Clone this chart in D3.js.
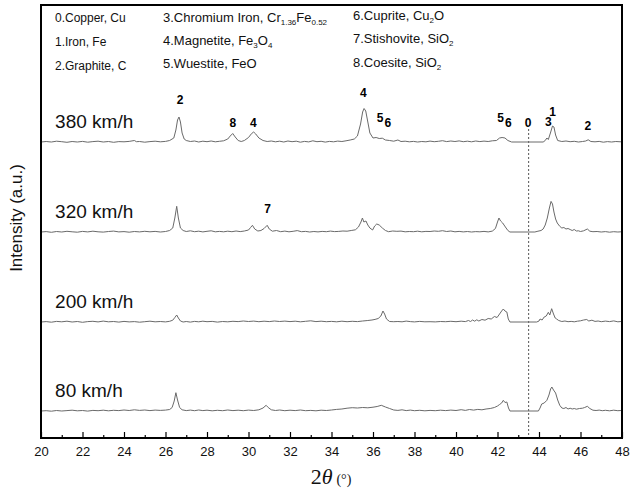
<!DOCTYPE html>
<html>
<head>
<meta charset="utf-8">
<script src="https://cdn.jsdelivr.net/npm/d3@7"></script>
<style>
  body { margin: 0; background: #fff; }
  svg { display: block; font-family: Arial, "Liberation Sans", sans-serif; }
</style>
</head>
<body>
<div id="chart"></div>
<script>
// ---- data (2theta in degrees, intensity above each curve's baseline in a.u.) ----
const speeds = ['380 km/h', '320 km/h', '200 km/h', '80 km/h'];
const offsets = [296, 206, 116, 27];

const s380 = [
  [20.0,0],[20.25,0.5],[20.5,0],[20.75,0.8],[21.0,0.3],[21.25,-0.3],[21.5,0.5],[21.75,0],[22.0,0.6],[22.25,-0.2],
  [22.5,0.4],[22.75,0.8],[23.0,0],[23.25,0.5],[23.5,-0.3],[23.75,0.4],[24.0,0.2],[24.25,0.6],[24.5,1.5],[24.6,0.3],
  [24.75,0.5],[25.0,-0.2],[25.25,0.4],[25.5,0.8],[25.75,0.2],[26.0,0.6],[26.2,1.5],[26.4,4],[26.5,12],[26.58,22],
  [26.65,25],[26.72,20],[26.8,9],[26.9,3],[27.0,1.5],[27.2,0.5],[27.4,1],[27.6,0],[27.8,0.8],[28.0,0.3],
  [28.2,1],[28.4,0.2],[28.6,0.7],[28.8,1.2],[29.0,3],[29.12,6],[29.24,8.5],[29.36,5],[29.5,1.5],[29.65,0.5],
  [29.8,1.5],[30.0,4.5],[30.15,8.5],[30.25,10],[30.35,8],[30.5,4],[30.7,1.5],[30.9,0.5],[31.1,1],[31.3,0.2],
  [31.5,0.8],[31.7,0],[31.9,1],[32.1,0.3],[32.3,0.8],[32.5,-0.2],[32.7,0.6],[32.9,0.1],[33.1,1.2],[33.3,0.3],
  [33.5,0.7],[33.7,-0.1],[33.9,0.6],[34.1,0.2],[34.3,0.9],[34.5,0.5],[34.7,1.2],[34.9,2],[35.1,3],[35.25,6],
  [35.4,18],[35.5,30],[35.57,33.5],[35.65,31],[35.75,20],[35.85,9],[36.0,4],[36.15,4.5],[36.3,3.5],[36.45,3.8],
  [36.6,2],[36.8,1.5],[37.0,0.8],[37.2,2],[37.35,0.5],[37.55,0.8],[37.75,0.2],[37.95,0.6],[38.15,0],[38.35,0.5],
  [38.55,0.2],[38.75,0.9],[38.95,0.3],[39.15,0.7],[39.35,1.3],[39.55,0.4],[39.75,1],[39.95,0.5],[40.15,1.1],[40.35,0.3],
  [40.55,0.8],[40.75,0.2],[40.95,1],[41.15,0.4],[41.35,0.9],[41.55,0.5],[41.75,1.2],[41.95,1.5],[42.1,4],[42.22,4.5],
  [42.36,4],[42.5,1.5],[42.68,0],[44.2,0],[44.3,1.5],[44.38,4],[44.45,2.5],[44.55,9],[44.65,16],[44.72,15],
  [44.8,7],[44.9,1.5],[45.1,0.5],[45.3,1],[45.5,0.3],[45.7,0.7],[45.9,0],[46.1,0.5],[46.25,1],[46.37,2.2],
  [46.5,0.5],[46.7,0.2],[46.9,0.6],[47.1,-0.2],[47.3,0.4],[47.5,0],[47.7,0.5],[47.95,0.2]
];

const s320 = [
  [20.0,0],[20.25,0.4],[20.5,-0.3],[20.75,0.5],[21.0,0],[21.25,0.7],[21.5,0.2],[21.75,-0.2],[22.0,0.6],[22.25,0.1],
  [22.5,0.8],[22.75,0.2],[23.0,-0.1],[23.25,0.5],[23.5,0.9],[23.75,0.1],[24.0,0.4],[24.25,-0.2],[24.5,0.5],[24.75,0.1],
  [25.0,0.7],[25.25,0.2],[25.5,0.6],[25.75,0],[26.0,0.5],[26.2,1.5],[26.35,4],[26.45,14],[26.54,25.7],[26.62,14],
  [26.72,4],[26.85,1.5],[27.0,0.5],[27.2,1.2],[27.4,0.3],[27.6,0.8],[27.8,0.1],[28.0,0.7],[28.2,1.2],[28.4,0.2],
  [28.6,0.6],[28.8,0.2],[29.0,0.8],[29.2,0.3],[29.4,1],[29.6,0.4],[29.8,1],[30.0,2],[30.1,4.5],[30.19,6.7],
  [30.3,3],[30.45,1],[30.6,1.5],[30.75,3.5],[30.9,6.7],[31.0,3],[31.15,0.8],[31.35,1.5],[31.55,0.3],[31.75,0.9],
  [31.95,0.2],[32.15,0.7],[32.35,1.4],[32.55,0.3],[32.75,0.6],[32.95,0],[33.15,0.5],[33.35,0.1],[33.55,0.6],[33.75,0.3],
  [33.95,0.9],[34.15,0.4],[34.35,0.6],[34.55,1],[34.75,0.8],[34.95,1.5],[35.15,2.2],[35.3,5],[35.42,10],[35.49,14],
  [35.56,10],[35.66,11],[35.75,7],[35.85,4],[35.98,2],[36.08,6],[36.18,8],[36.3,7],[36.45,4],[36.6,1.5],
  [36.75,0.3],[36.95,1],[37.15,0.7],[37.35,0.9],[37.55,0.2],[37.75,0.5],[37.95,0.3],[38.15,0.8],[38.35,0.2],[38.55,0.6],
  [38.75,0.5],[38.95,1],[39.15,0.7],[39.35,1.3],[39.55,0.5],[39.75,1],[39.95,0.2],[40.15,0.6],[40.35,0.1],[40.55,0.5],
  [40.75,0],[40.95,0.4],[41.15,0.2],[41.35,0.6],[41.55,0.1],[41.75,0.9],[41.9,3.5],[42.0,10],[42.07,14],[42.15,11],
  [42.25,9],[42.38,5],[42.5,1.5],[42.6,0],[43.8,0],[43.95,0.8],[44.1,1.5],[44.2,3],[44.3,7],[44.4,14],
  [44.5,24],[44.58,30.6],[44.65,28],[44.72,20],[44.8,13],[44.88,9],[45.0,5.7],[45.1,4],[45.2,4.5],[45.3,3],
  [45.4,3.5],[45.5,2.5],[45.6,1.5],[45.7,2.5],[45.8,1],[45.9,1.2],[46.0,0.5],[46.15,1.2],[46.33,3],[46.45,0.8],
  [46.6,0.3],[46.8,0.5],[47.0,0],[47.2,0.4],[47.4,-0.2],[47.6,0.3],[47.8,0],[47.95,0.2]
];

const s200 = [
  [20.0,0],[20.25,0.4],[20.5,-0.2],[20.75,0.6],[21.0,0.2],[21.25,0.8],[21.5,0],[21.75,0.5],[22.0,-0.3],[22.25,0.4],
  [22.5,0.7],[22.75,0.1],[23.0,0.9],[23.25,0.2],[23.5,0.5],[23.75,-0.1],[24.0,0.6],[24.25,0.1],[24.5,0.4],[24.75,-0.2],
  [25.0,0.3],[25.25,0.8],[25.5,0.2],[25.75,0.5],[26.0,0.1],[26.2,0.7],[26.35,1.8],[26.45,4.5],[26.54,7],[26.62,4],
  [26.72,1],[26.85,0],[27.0,0.5],[27.2,-0.1],[27.4,0.6],[27.6,0.2],[27.8,0.8],[28.0,0.3],[28.25,0.6],[28.5,-0.1],
  [28.75,0.5],[29.0,0.2],[29.25,0.7],[29.5,0.4],[29.75,1],[30.0,0.5],[30.25,0.9],[30.5,0.3],[30.75,0.8],[31.0,0.4],
  [31.25,1],[31.5,0.5],[31.75,0.9],[32.0,0.4],[32.25,0.8],[32.5,0.2],[32.75,0.7],[33.0,1.2],[33.25,0.4],[33.5,0.8],
  [33.75,0.3],[34.0,0.6],[34.25,0.2],[34.5,0.8],[34.75,0.3],[35.0,0.7],[35.25,0.4],[35.5,1],[35.75,1.5],[35.95,2],
  [36.1,2.6],[36.25,3.5],[36.38,6],[36.48,11],[36.56,8],[36.65,3],[36.8,0.5],[37.0,0.3],[37.2,0.5],[37.4,0.2],
  [37.6,0.9],[37.8,0.4],[38.0,0.1],[38.25,0.6],[38.5,0.2],[38.75,0.3],[39.0,0.1],[39.25,0.5],[39.5,0.3],[39.75,0.7],
  [40.0,0.3],[40.25,0.8],[40.45,0.4],[40.6,1.5],[40.7,0.5],[40.8,2],[40.9,0.8],[41.0,2.2],[41.1,1],[41.25,2.5],
  [41.4,1.8],[41.55,3.5],[41.7,3],[41.85,5.5],[41.98,4.5],[42.1,8],[42.2,11],[42.28,13],[42.36,11],[42.45,10],
  [42.52,3],[42.6,0],[43.89,0],[44.0,1],[44.05,3],[44.15,2],[44.25,5],[44.35,6],[44.45,9.7],[44.52,7],
  [44.61,13.3],[44.7,8],[44.78,4],[44.85,3],[44.95,1.5],[45.1,0.5],[45.25,1],[45.4,0.3],[45.55,0.6],[45.7,0.2],
  [45.85,0.8],[46.0,1.2],[46.15,2],[46.3,2.5],[46.4,1],[46.55,1.8],[46.7,0.6],[46.85,1],[47.0,0.3],[47.2,0.9],
  [47.4,0.4],[47.6,1.1],[47.8,0.2],[47.95,0.5]
];

const s80 = [
  [20.0,0],[20.25,0.3],[20.5,-0.2],[20.75,0.5],[21.0,0],[21.25,0.4],[21.5,0.8],[21.75,0.2],[22.0,0.5],[22.25,-0.1],
  [22.5,0.6],[22.75,0.3],[23.0,0.8],[23.25,0.2],[23.5,0.7],[23.75,0.4],[24.0,1],[24.25,0.5],[24.5,1.2],[24.75,0.6],
  [25.0,1],[25.25,0.4],[25.5,0.9],[25.75,0.6],[26.0,0.9],[26.2,1.5],[26.32,3.5],[26.42,10],[26.5,18.3],[26.58,11],
  [26.68,3.5],[26.8,1.2],[27.0,0.4],[27.2,0.9],[27.4,0.3],[27.6,1],[27.8,0.4],[28.0,0.8],[28.25,0.2],[28.5,0.7],
  [28.75,0.3],[29.0,1],[29.25,0.4],[29.5,0.8],[29.75,0.3],[30.0,0.9],[30.25,0.5],[30.5,1.2],[30.7,3],[30.85,5.7],
  [30.95,3.5],[31.1,1.2],[31.3,0.5],[31.5,1],[31.75,0.3],[32.0,0.8],[32.25,0.4],[32.5,1],[32.75,0.3],[33.0,0.6],
  [33.25,0.2],[33.5,0.8],[33.75,0.5],[34.0,1],[34.25,1.6],[34.5,2],[34.75,2.8],[35.0,3.3],[35.25,3],[35.5,3.5],
  [35.75,3.2],[36.0,3.8],[36.2,4.5],[36.4,5.7],[36.6,4],[36.8,2.5],[37.0,1],[37.2,0.6],[37.4,1.2],[37.6,0.4],
  [37.8,0.9],[38.0,0.3],[38.25,0.7],[38.5,0.2],[38.75,0.6],[39.0,0.3],[39.25,0.8],[39.5,0.4],[39.75,0.9],[40.0,0.5],
  [40.25,1.3],[40.45,0.6],[40.65,1.5],[40.85,0.9],[41.05,1.6],[41.25,1.2],[41.45,2],[41.65,2.5],[41.85,3.5],[42.0,5],
  [42.1,6.5],[42.2,8],[42.28,10.7],[42.36,8.5],[42.45,9],[42.53,3],[42.6,0],[43.97,0],[44.05,3],[44.13,7],
  [44.25,8],[44.38,10.7],[44.48,16],[44.56,22],[44.62,24],[44.7,21],[44.8,18],[44.9,11],[45.0,5.7],[45.1,3],
  [45.2,2.5],[45.3,3.5],[45.4,2],[45.5,2.8],[45.6,2],[45.7,2.5],[45.8,1.8],[45.95,2.5],[46.1,2.8],[46.2,3.5],
  [46.33,4.7],[46.45,2.5],[46.6,0.8],[46.75,0.5],[46.9,0.9],[47.05,0.3],[47.2,0.7],[47.4,0.2],[47.6,0.8],[47.8,0.3],
  [47.95,0.5]
];

const series = [s380, s320, s200, s80];

// phase labels: [text, 2theta, height above baseline, series index]
const peakLabels = [
  ['2', 26.70, 42, 0], ['8', 29.24, 19, 0], ['4', 30.23, 19, 0], ['4', 35.53, 49, 0],
  ['5', 36.34, 24, 0], ['6', 36.71, 19, 0], ['5', 42.15, 24, 0], ['6', 42.52, 19, 0],
  ['0', 43.48, 19, 0], ['3', 44.45, 20, 0], ['1', 44.66, 30, 0], ['2', 46.35, 16, 0],
  ['7', 30.92, 23, 1]
];

// legend entries: alternating normal / subscript pieces
const legendCol1 = [['0.Copper, Cu'], ['1.Iron, Fe'], ['2.Graphite, C']];
const legendCol2 = [['3.Chromium Iron, Cr', '1.36', 'Fe', '0.52'], ['4.Magnetite, Fe', '3', 'O', '4'], ['5.Wuestite, FeO']];
const legendCol3 = [['6.Cuprite, Cu', '2', 'O'], ['7.Stishovite, SiO', '2'], ['8.Coesite, SiO', '2']];

const copperLine = 43.5;
const xMajor = d3.range(20, 49, 2);
const xMinor = d3.range(21, 48, 2);

// ---- layout ----
const W = 632, H = 488;
const mLeft = 41, mRight = 622, mTop = 5, mBottom = 438;

const svg = d3.select('#chart').append('svg')
  .attr('width', W)
  .attr('height', H);

const x = d3.scaleLinear().domain([20, 48]).range([mLeft, mRight]);
const y = d3.scaleLinear().domain([0, mBottom - mTop]).range([mBottom, mTop]);

const line = d3.line()
  .x(d => x(d[0]))
  .y(d => y(d[1] + d.off));

// dashed Cu reference line
svg.append('line')
  .attr('x1', x(copperLine)).attr('x2', x(copperLine))
  .attr('y1', y(offsets[0] + 13)).attr('y2', mBottom)
  .attr('stroke', '#444')
  .attr('stroke-width', 0.9)
  .attr('stroke-dasharray', '2,2');

// curves
series.forEach((s, i) => {
  const pts = s.map(p => { const q = [p[0], p[1]]; q.off = offsets[i]; return q; });
  svg.append('path')
    .attr('d', line(pts))
    .attr('fill', 'none')
    .attr('stroke', '#6a6a6a')
    .attr('stroke-width', 1);

  svg.append('text')
    .attr('x', x(20.68))
    .attr('y', y(offsets[i] + 14))
    .attr('font-size', '19px')
    .attr('fill', '#111')
    .text(speeds[i]);
});

// peak labels
svg.selectAll('.pk')
  .data(peakLabels)
  .enter()
  .append('text')
  .attr('class', 'pk')
  .attr('x', d => x(d[1]))
  .attr('y', d => y(offsets[d[3]] + d[2]))
  .attr('dy', '0.35em')
  .attr('text-anchor', 'middle')
  .attr('font-size', '12px')
  .attr('font-weight', 'bold')
  .text(d => d[0]);

// legend
function legendColumn(items, x0, rows, size, subSize) {
  items.forEach((parts, r) => {
    const t = svg.append('text')
      .attr('x', x0)
      .attr('y', rows[r])
      .attr('font-size', size + 'px')
      .attr('fill', '#111');
    parts.forEach((p, k) => {
      const sub = k % 2 === 1;
      const next = t.append('tspan').text(p);
      if (sub) next.attr('font-size', subSize + 'px').attr('dy', 3);
      else if (k > 0) next.attr('dy', -3);
    });
  });
}
legendColumn(legendCol1, 55, [22, 46, 70], 12, 7.5);
legendColumn(legendCol2, 163, [22, 45, 68], 13, 8);
legendColumn(legendCol3, 353, [20, 43, 67], 13, 8);

// frame
svg.append('rect')
  .attr('x', mLeft).attr('y', mTop)
  .attr('width', mRight - mLeft).attr('height', mBottom - mTop)
  .attr('fill', 'none')
  .attr('stroke', '#000')
  .attr('stroke-width', 2);

// x axis: inward ticks
const axis = svg.append('g').attr('transform', `translate(0,${mBottom})`);
axis.call(d3.axisBottom(x).tickValues(xMajor).tickSize(-6).tickPadding(9).tickFormat(d3.format('d')));
const minor = svg.append('g').attr('transform', `translate(0,${mBottom})`);
minor.call(d3.axisBottom(x).tickValues(xMinor).tickSize(-3).tickFormat(''));
svg.selectAll('.domain').remove();
svg.selectAll('.tick line').attr('stroke', '#000').attr('stroke-width', 1.2);
axis.selectAll('text')
  .attr('font-size', '13px')
  .attr('font-family', 'Arial, "Liberation Sans", sans-serif')
  .attr('fill', '#111');

// x title
const xt = svg.append('text')
  .attr('x', 331)
  .attr('y', 484)
  .attr('text-anchor', 'middle')
  .attr('font-family', '"Liberation Serif", "Times New Roman", serif')
  .attr('font-size', '22px')
  .attr('fill', '#111');
xt.append('tspan').text('2');
xt.append('tspan').attr('font-style', 'italic').text('θ');
xt.append('tspan').attr('font-size', '14px').attr('dx', 4).text('(°)');

// y title
svg.append('text')
  .attr('transform', 'translate(22,218) rotate(-90)')
  .attr('text-anchor', 'middle')
  .attr('font-size', '17px')
  .attr('fill', '#111')
  .text('Intensity (a.u.)');
</script>
</body>
</html>
